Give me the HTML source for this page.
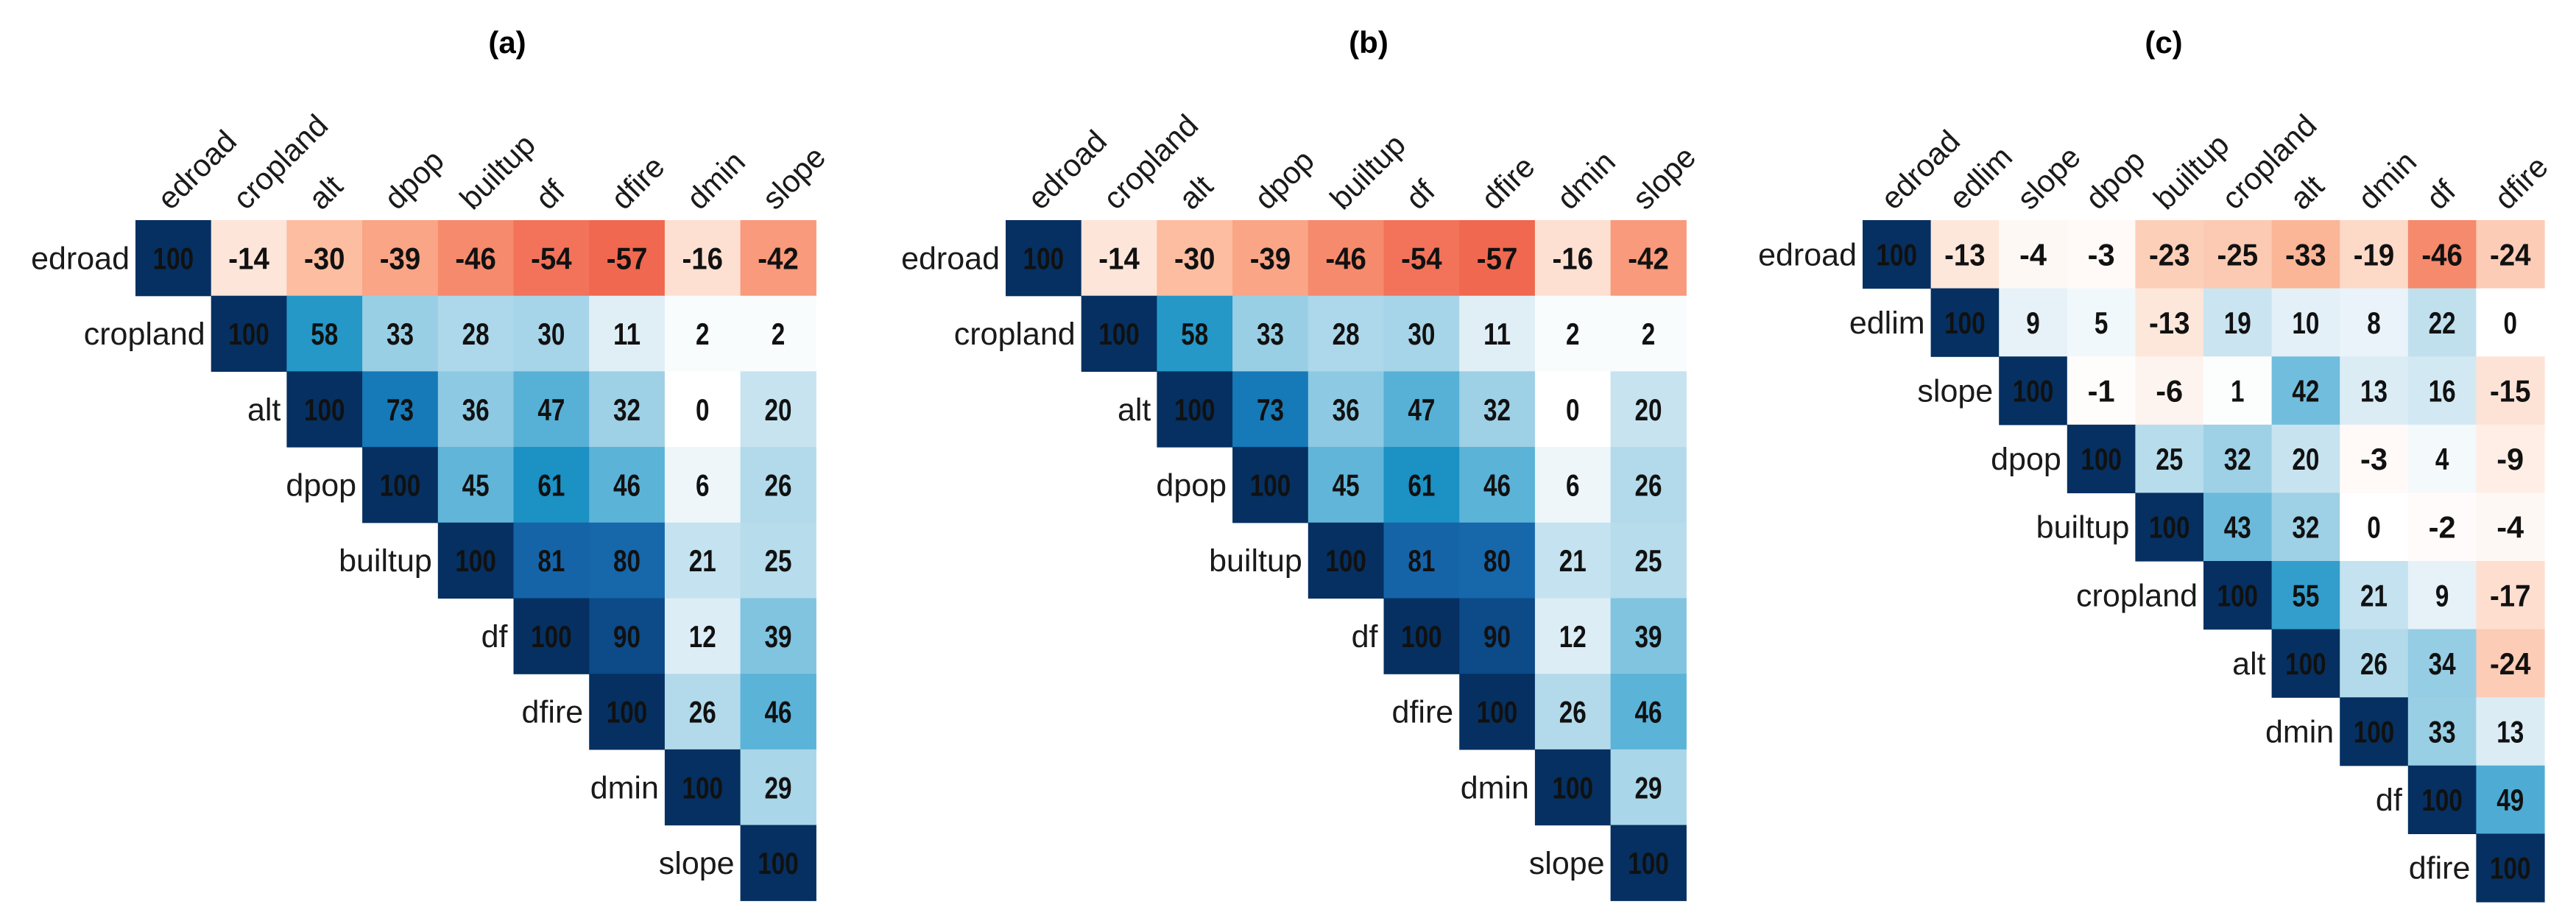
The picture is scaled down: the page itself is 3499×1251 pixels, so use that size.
<!DOCTYPE html>
<html><head><meta charset="utf-8">
<style>
html,body{margin:0;padding:0;background:#fff;}
svg{display:block;}
text{font-family:"Liberation Sans",Arial,sans-serif;}
</style></head>
<body>
<svg id="chart" width="3499" height="1251" viewBox="0 0 3499 1251" xmlns="http://www.w3.org/2000/svg"></svg>
<script>
// Panel (a)
const varsA = ["edroad","cropland","alt","dpop","builtup","df","dfire","dmin","slope"];
const valsA = [
 [100,-14,-30,-39,-46,-54,-57,-16,-42],
 [100,58,33,28,30,11,2,2],
 [100,73,36,47,32,0,20],
 [100,45,61,46,6,26],
 [100,81,80,21,25],
 [100,90,12,39],
 [100,26,46],
 [100,29],
 [100]
];
// Panel (b)
const varsB = ["edroad","cropland","alt","dpop","builtup","df","dfire","dmin","slope"];
const valsB = [
 [100,-14,-30,-39,-46,-54,-57,-16,-42],
 [100,58,33,28,30,11,2,2],
 [100,73,36,47,32,0,20],
 [100,45,61,46,6,26],
 [100,81,80,21,25],
 [100,90,12,39],
 [100,26,46],
 [100,29],
 [100]
];
// Panel (c)
const varsC = ["edroad","edlim","slope","dpop","builtup","cropland","alt","dmin","df","dfire"];
const valsC = [
 [100,-13,-4,-3,-23,-25,-33,-19,-46,-24],
 [100,9,5,-13,19,10,8,22,0],
 [100,-1,-6,1,42,13,16,-15],
 [100,25,32,20,-3,4,-9],
 [100,43,32,0,-2,-4],
 [100,55,21,9,-17],
 [100,26,34,-24],
 [100,33,13],
 [100,49],
 [100]
];
const titles = ["(a)","(b)","(c)"];

const stops = [
 [-60,[236,92,68]],[-54,[242,115,90]],[-46,[246,138,108]],[-40,[249,162,131]],
 [-30,[252,189,160]],[-15,[253,227,214]],[0,[255,255,255]],[10,[227,240,247]],
 [20,[199,227,240]],[30,[166,212,232]],[40,[124,194,223]],[45,[96,181,217]],
 [60,[28,147,197]],[73,[22,121,184]],[80,[23,103,171]],[90,[12,74,136]],[100,[5,48,97]]
];
function color(v){
  if(v<=stops[0][0]) return "rgb("+stops[0][1].join(",")+")";
  for(let i=0;i<stops.length-1;i++){
    const a=stops[i],b=stops[i+1];
    if(v>=a[0]&&v<=b[0]){
      const t=(v-a[0])/(b[0]-a[0]);
      const c=a[1].map((x,k)=>Math.round(x+(b[1][k]-x)*t));
      return "rgb("+c.join(",")+")";
    }
  }
  return "rgb(5,48,97)";
}
const NS="http://www.w3.org/2000/svg";
const svg=document.getElementById("chart");
function el(tag,attrs,parent){
  const e=document.createElementNS(NS,tag);
  for(const k in attrs) e.setAttribute(k,attrs[k]);
  parent.appendChild(e); return e;
}
const panels=[
 {vars:varsA,vals:valsA,x0:184,y0:299,cell:102.7,tx:689,key:"a"},
 {vars:varsB,vals:varsB&&valsB,x0:1366,y0:299,cell:102.7,tx:1859,key:"b"},
 {vars:varsC,vals:valsC,x0:2530,y0:299,cell:92.6,tx:2939,key:"c"}
];
panels.forEach((p,pi)=>{
  const g=el("g",{},svg);
  
  
  const xs=i=>p.x0+i*p.cell;
  const ys=j=>p.y0+j*p.cell;
  const t=el("text",{x:p.tx,y:72,"font-size":42,"font-weight":"bold","text-anchor":"middle",fill:"#000"},g);
  t.textContent=titles[pi];
  
  
  const n=p.vars.length;
  p.vals.forEach((row,r)=>{
    row.forEach((v,k)=>{
      const c=r+k;
      const rect=el("rect",{x:xs(c),y:ys(r),width:p.cell+0.6,height:p.cell+0.6,fill:color(v)},g);
      
      
      const s=String(v);
      const tx=el("text",{x:xs(c)+p.cell/2,y:ys(r)+p.cell/2+15,"font-size":42,"font-weight":"bold","text-anchor":"middle",fill:"#111",textLength:s.length*18.5,lengthAdjust:"spacingAndGlyphs"},g);
      tx.textContent=s;
      
      
    });
    const rl=el("text",{x:xs(r)-8,y:ys(r)+p.cell/2+15,"font-size":43,"text-anchor":"end",fill:"#1a1a1a"},g);
    rl.textContent=p.vars[r];
    
    
  });
  for(let c=0;c<n;c++){
    const x=xs(c)+p.cell/2-4, y=p.y0-12;
    const cl=el("text",{x:x,y:y,"font-size":42,"text-anchor":"start",fill:"#1a1a1a",transform:"rotate(-45 "+x+" "+y+")"},g);
    cl.textContent=p.vars[c];
    
    
  }
});
</script>
</body></html>
